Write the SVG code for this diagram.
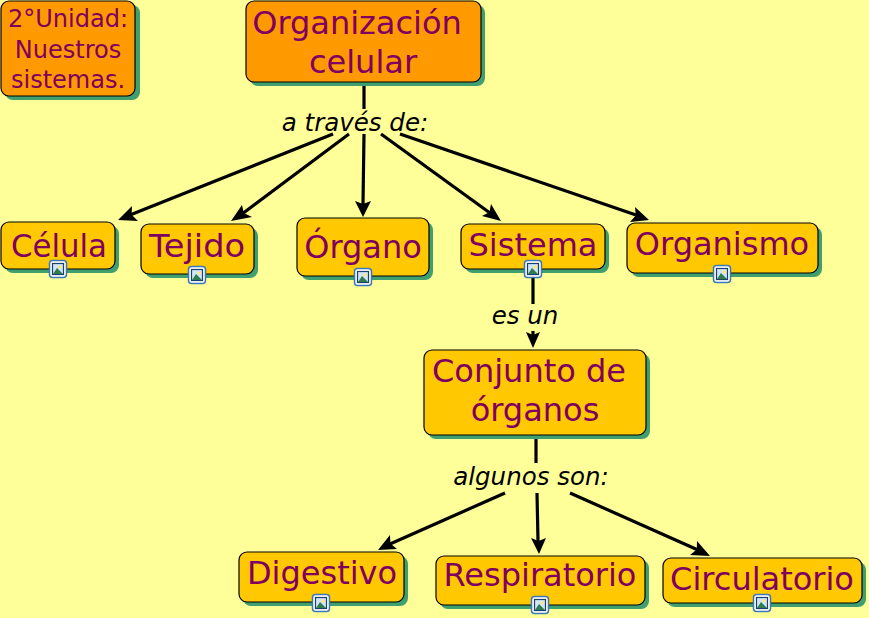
<svg xmlns="http://www.w3.org/2000/svg" width="869" height="618" viewBox="0 0 869 618">
<style>
.b{stroke:#000;stroke-width:1.200}
.o{fill:#ff9900}
.y{fill:#ffc800}
.s{fill:#3f9f6f}
text{font-family:"DejaVu Sans",Verdana,sans-serif}
.t{fill:#800060;text-anchor:middle}
.l{fill:#000;font-style:italic;font-size:24.500px;text-anchor:middle}
.c{stroke:#000;stroke-width:3.200;fill:none}
.a{fill:#000}
</style>
<defs>
<g id="ic">
<rect x="-8.500" y="-8.500" width="17" height="17" rx="3" fill="#fff" stroke="#3b78b8" stroke-width="1.500"/>
<rect x="-5.500" y="-5.500" width="11" height="11" fill="#cfe6fa" stroke="#1d3f6b" stroke-width="1.200"/>
<circle cx="2" cy="-2" r="1.800" fill="#ffe680"/>
<path d="M-5 5L-1 -1L5 5Z" fill="#2f7d4f"/>
</g>
</defs>
<rect width="869" height="618" fill="#ffff99"/>
<g id="connectors">
<path class="c" d="M364 85V109"/>
<path class="c" d="M333 134L130 215"/><path class="a" d="M118 220L132 206L131.600 214.800L138 221Z"/>
<path class="c" d="M349 134L242 214"/><path class="a" d="M231 221L242 205L243.800 213L252 217Z"/>
<path class="c" d="M364 134L363 204"/><path class="a" d="M363 217L355 201L363 204L371 201Z"/>
<path class="c" d="M381 134L490 213"/><path class="a" d="M501 221L482 216L489.400 212.200L491 204Z"/>
<path class="c" d="M400 134L636 215"/><path class="a" d="M649 220L630 222L635.800 215.600L635 207Z"/>
<path class="c" d="M533 278V304"/>
<path class="c" d="M533 331V336"/><path class="a" d="M533 348L526 332L533 335L540 332Z"/>
<path class="c" d="M536 438V463"/>
<path class="c" d="M505 493L390 544"/><path class="a" d="M378 550L390 535L390.400 543.600L397 549Z"/>
<path class="c" d="M537 493L538 541"/><path class="a" d="M539 554L531 538L538.600 541L546 538Z"/>
<path class="c" d="M570 493L698 550"/><path class="a" d="M710 556L690 555L696.800 549.600L697 541Z"/>
</g>
<g id="n-unidad"><rect class="s" x="5" y="5" width="135" height="95" rx="8"/><rect class="b o" x="1" y="1" width="134" height="95" rx="8"/><text class="t" font-size="24"><tspan x="68" y="27">2°Unidad:</tspan><tspan x="68" y="58">Nuestros</tspan><tspan x="68" y="88">sistemas.</tspan></text></g>
<g id="n-organizacion"><rect class="s" x="250" y="5" width="235" height="81" rx="8"/><rect class="b o" x="246" y="1" width="235" height="81" rx="8"/><text class="t" font-size="32"><tspan x="357" y="34">Organización</tspan><tspan x="363" y="73">celular</tspan></text></g>
<g id="n-celula"><rect class="s" x="5" y="226" width="114" height="47" rx="8"/><rect class="b y" x="1" y="222" width="114" height="47" rx="8"/><text class="t" font-size="32" x="59" y="257" textLength="96" lengthAdjust="spacingAndGlyphs">Célula</text><use href="#ic" x="58" y="269"/></g>
<g id="n-tejido"><rect class="s" x="145" y="228" width="113" height="50" rx="8"/><rect class="b y" x="141" y="224" width="113" height="50" rx="8"/><text class="t" font-size="32" x="197" y="257" textLength="96" lengthAdjust="spacingAndGlyphs">Tejido</text><use href="#ic" x="197" y="275"/></g>
<g id="n-organo"><rect class="s" x="301" y="222" width="132" height="58" rx="8"/><rect class="b y" x="297" y="218" width="132" height="58" rx="8"/><text class="t" font-size="32" x="363" y="258">Órgano</text><use href="#ic" x="363" y="277"/></g>
<g id="n-sistema"><rect class="s" x="465" y="228" width="144" height="45" rx="8"/><rect class="b y" x="461" y="224" width="144" height="45" rx="8"/><text class="t" font-size="32" x="533" y="256">Sistema</text><use href="#ic" x="533" y="269"/></g>
<g id="n-organismo"><rect class="s" x="631" y="227" width="191" height="50" rx="8"/><rect class="b y" x="627" y="223" width="191" height="50" rx="8"/><text class="t" font-size="32" x="722" y="255">Organismo</text><use href="#ic" x="722" y="274"/></g>
<g id="n-conjunto"><rect class="s" x="428" y="354" width="222" height="85" rx="8"/><rect class="b y" x="424" y="350" width="222" height="85" rx="8"/><text class="t" font-size="32"><tspan x="529" y="382">Conjunto de</tspan><tspan x="535" y="421">órganos</tspan></text></g>
<g id="n-digestivo"><rect class="s" x="243" y="556" width="165" height="50" rx="8"/><rect class="b y" x="239" y="552" width="165" height="50" rx="8"/><text class="t" font-size="32" x="322" y="584">Digestivo</text><use href="#ic" x="321" y="603"/></g>
<g id="n-respiratorio"><rect class="s" x="440" y="560" width="209" height="49" rx="8"/><rect class="b y" x="436" y="556" width="209" height="49" rx="8"/><text class="t" font-size="32" x="540" y="586">Respiratorio</text><use href="#ic" x="540" y="605"/></g>
<g id="n-circulatorio"><rect class="s" x="667" y="562" width="199" height="45" rx="8"/><rect class="b y" x="663" y="558" width="199" height="45" rx="8"/><text class="t" font-size="32" x="762" y="590">Circulatorio</text><use href="#ic" x="762" y="603"/></g>
<g id="labels">
<text class="l" x="355" y="131">a través de:</text>
<text class="l" x="525" y="324">es un</text>
<text class="l" x="531" y="485">algunos son:</text>
</g>
</svg>
